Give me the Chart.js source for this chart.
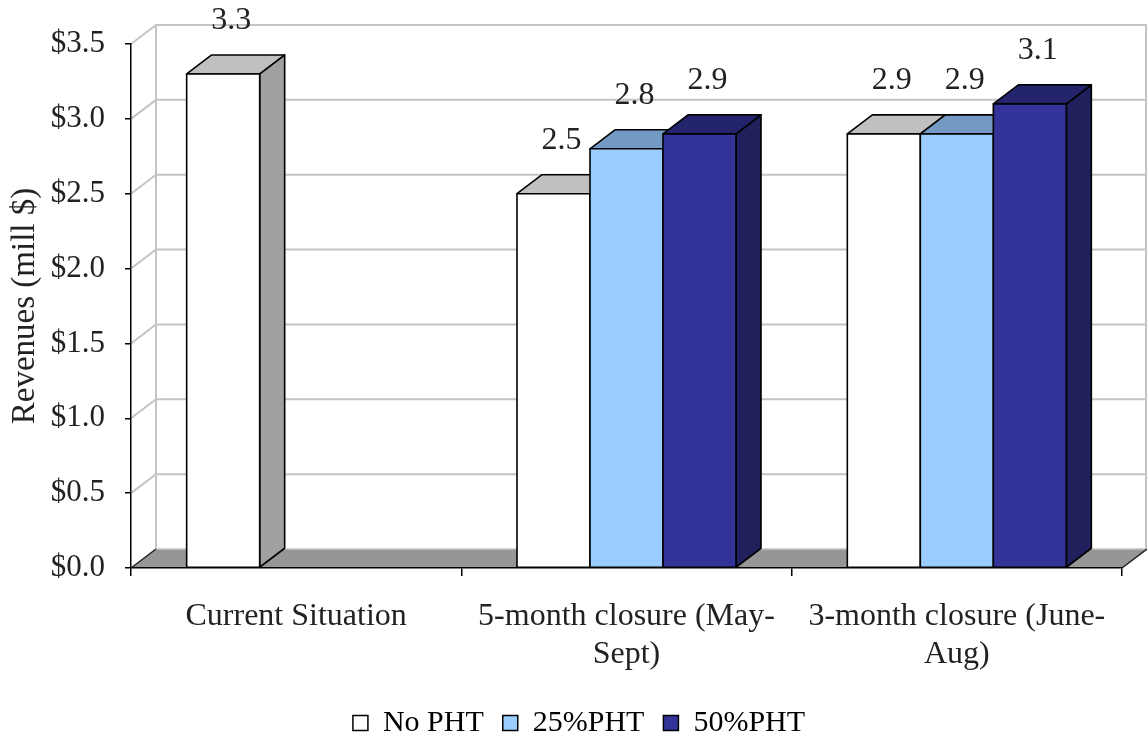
<!DOCTYPE html>
<html>
<head>
<meta charset="utf-8">
<script src="https://cdn.jsdelivr.net/npm/chart.js@4.4.1/dist/chart.umd.min.js"></script>
<style>
  html, body { margin: 0; padding: 0; background: #ffffff; }
  #wrap { width: 1147px; height: 738px; position: relative; }
</style>
</head>
<body>
<div id="wrap"><canvas id="c" width="1147" height="738"></canvas></div>
<script>
// ---- data ----
const categories = ['Current Situation', ['5-month closure (May-', 'Sept)'], ['3-month closure (June-', 'Aug)']];
const seriesNames = ['No PHT', '25%PHT', '50%PHT'];
const noPHT = [3.3, 2.5, 2.9];
const pht25 = [null, 2.8, 2.9];
const pht50 = [null, 2.9, 3.1];
const yMin = 0, yMax = 3.5, yStep = 0.5;

// ---- styles ----
const FONT = 'Liberation Serif, Times New Roman, serif';
const faceColors = ['#FFFFFF', '#99CCFF', '#333399'];
const topColors = ['#C0C0C0', '#739AC4', '#24246C'];
const sideColors = ['#A0A0A0', '#5E86B0', '#20205C'];
const DX = 25, DY = 19; // 3D depth offset

const wall3D = {
  id: 'wall3D',
  afterLayout(chart) {
    const lg = chart.legend;
    if (lg) { lg.top += 10; lg.bottom += 10; lg.left += 18; lg.right += 18; }
  },
  beforeDraw(chart) {
    const {ctx, chartArea: a, scales: {y}} = chart;
    ctx.save();
    // floor
    ctx.beginPath();
    ctx.moveTo(a.left, a.bottom);
    ctx.lineTo(a.right, a.bottom);
    ctx.lineTo(a.right + DX, a.bottom - DY);
    ctx.lineTo(a.left + DX, a.bottom - DY);
    ctx.closePath();
    ctx.fillStyle = '#969696';
    ctx.fill();
    // gridlines on side and back wall
    ctx.strokeStyle = '#C4C4C4';
    ctx.lineWidth = 2;
    y.ticks.forEach(t => {
      if (t.value <= yMin) return;
      const py = y.getPixelForValue(t.value);
      ctx.beginPath();
      ctx.moveTo(a.left, py);
      ctx.lineTo(a.left + DX, py - DY);
      ctx.lineTo(a.right + DX, py - DY);
      ctx.stroke();
    });
    // back wall edges
    ctx.beginPath();
    ctx.moveTo(a.left + DX, a.top - DY);
    ctx.lineTo(a.left + DX, a.bottom - DY);
    ctx.moveTo(a.right + DX - 1, a.top - DY);
    ctx.lineTo(a.right + DX - 1, a.bottom - DY);
    ctx.stroke();
    // floor edges
    ctx.strokeStyle = '#C4C4C4';
    ctx.lineWidth = 1.5;
    ctx.beginPath();
    ctx.moveTo(a.left + DX, a.bottom - DY);
    ctx.lineTo(a.right + DX, a.bottom - DY);
    ctx.stroke();
    ctx.strokeStyle = '#222';
    ctx.beginPath();
    ctx.moveTo(a.left, a.bottom);
    ctx.lineTo(a.left + DX, a.bottom - DY);
    ctx.moveTo(a.right, a.bottom);
    ctx.lineTo(a.right + DX, a.bottom - DY);
    ctx.stroke();
    ctx.restore();
  },
  beforeDatasetDraw() { return false; },
  afterDatasetsDraw(chart) {
    const {ctx} = chart;
    const bars = [];
    chart.data.datasets.forEach((ds, di) => {
      const meta = chart.getDatasetMeta(di);
      meta.data.forEach((el, j) => {
        if (ds.data[j] == null) return;
        const p = el.getProps(['x', 'y', 'base', 'width'], true);
        bars.push({di, x: p.x, y: p.y, base: p.base, w: p.width, v: ds.data[j]});
      });
    });
    bars.sort((a, b) => a.x - b.x);
    ctx.save();
    ctx.lineJoin = 'round';
    ctx.strokeStyle = '#000';
    ctx.lineWidth = 1.6;
    bars.forEach(b => {
      const l = b.x - b.w / 2, r = b.x + b.w / 2;
      // side
      ctx.beginPath();
      ctx.moveTo(r, b.y); ctx.lineTo(r + DX, b.y - DY); ctx.lineTo(r + DX, b.base - DY); ctx.lineTo(r, b.base); ctx.closePath();
      ctx.fillStyle = sideColors[b.di]; ctx.fill(); ctx.stroke();
      // top
      ctx.beginPath();
      ctx.moveTo(l, b.y); ctx.lineTo(l + DX, b.y - DY); ctx.lineTo(r + DX, b.y - DY); ctx.lineTo(r, b.y); ctx.closePath();
      ctx.fillStyle = topColors[b.di]; ctx.fill(); ctx.stroke();
      // front
      ctx.beginPath();
      ctx.rect(l, b.y, b.w, b.base - b.y);
      ctx.fillStyle = faceColors[b.di]; ctx.fill(); ctx.stroke();
    });
    // value labels
    ctx.fillStyle = '#222';
    ctx.font = '32px ' + FONT;
    ctx.textAlign = 'center';
    ctx.textBaseline = 'middle';
    bars.forEach(b => {
      ctx.fillText(b.v.toFixed(1), b.x + 8, b.y - 53);
    });
    ctx.restore();
  }
};

const datasets = [noPHT, pht25, pht50].map((d, i) => ({
  label: seriesNames[i],
  data: d,
  backgroundColor: faceColors[i],
  borderColor: '#000',
  borderWidth: 1.5
}));

new Chart(document.getElementById('c'), {
  type: 'bar',
  data: { labels: categories, datasets },
  plugins: [wall3D],
  options: {
    responsive: false,
    animation: false,
    events: [],
    layout: { padding: { left: 0, right: 25, top: 44, bottom: 0 } },
    datasets: { bar: { categoryPercentage: 0.663, barPercentage: 1.0 } },
    plugins: {
      tooltip: { enabled: false },
      legend: {
        position: 'bottom',
        labels: {
          font: { family: FONT, size: 30 },
          color: '#000',
          boxWidth: 15,
          boxHeight: 15,
          padding: 19
        }
      }
    },
    scales: {
      x: {
        ticks: { font: { family: FONT, size: 32 }, color: '#222', padding: 21, maxRotation: 0, autoSkip: false },
        grid: { drawOnChartArea: false, drawTicks: true, tickLength: 8, color: '#000', lineWidth: 1.5, offset: true },
        border: { display: true, color: '#000', width: 1.5 },
        afterFit(s) {
          const lg = s.chart.legend;
          const lh = lg && lg.height ? lg.height : 50;
          s.height = s.chart.height - 568 - lh;
        }
      },
      y: {
        min: yMin, max: yMax,
        ticks: { stepSize: yStep, font: { family: FONT, size: 31 }, color: '#222', padding: 20,
                 callback: v => '$' + Number(v).toFixed(1) },
        grid: { drawOnChartArea: false, drawTicks: true, tickLength: 6, color: '#000', lineWidth: 1.5 },
        border: { display: true, color: '#000', width: 1.5 },
        title: { display: true, text: 'Revenues (mill $)', font: { family: FONT, size: 33 }, color: '#222', padding: { top: 6, bottom: 0 } },
        afterFit(s) { s.width = 131; }
      }
    }
  }
});
</script>
</body>
</html>
